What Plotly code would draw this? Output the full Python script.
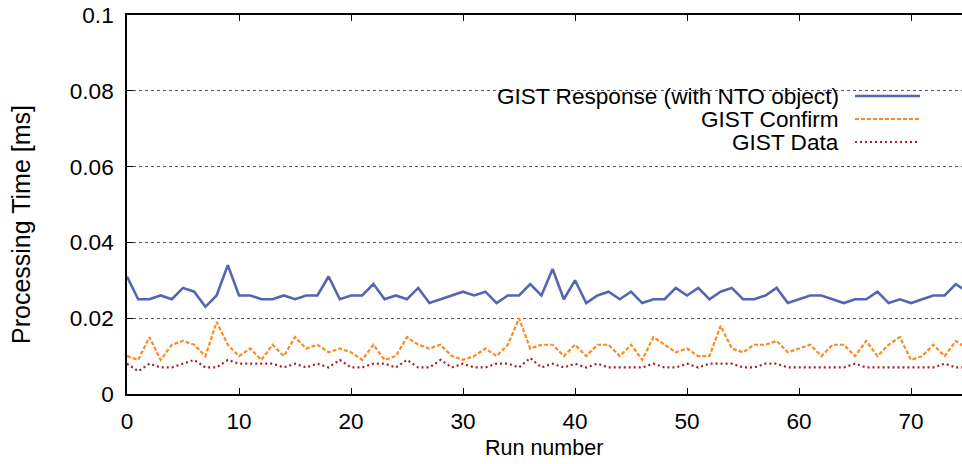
import plotly.graph_objects as go

run = list(range(76))

gist_response = [
    0.031, 0.025, 0.025, 0.026, 0.025, 0.028, 0.027, 0.023, 0.026, 0.034,
    0.026, 0.026, 0.025, 0.025, 0.026, 0.025, 0.026, 0.026, 0.031, 0.025,
    0.026, 0.026, 0.029, 0.025, 0.026, 0.025, 0.028, 0.024, 0.025, 0.026,
    0.027, 0.026, 0.027, 0.024, 0.026, 0.026, 0.029, 0.026, 0.033, 0.025,
    0.030, 0.024, 0.026, 0.027, 0.025, 0.027, 0.024, 0.025, 0.025, 0.028,
    0.026, 0.028, 0.025, 0.027, 0.028, 0.025, 0.025, 0.026, 0.028, 0.024,
    0.025, 0.026, 0.026, 0.025, 0.024, 0.025, 0.025, 0.027, 0.024, 0.025,
    0.024, 0.025, 0.026, 0.026, 0.029, 0.027,
]

gist_confirm = [
    0.010, 0.009, 0.015, 0.009, 0.013, 0.014, 0.013, 0.010, 0.019, 0.013,
    0.010, 0.012, 0.009, 0.013, 0.010, 0.015, 0.012, 0.013, 0.011, 0.012,
    0.011, 0.009, 0.013, 0.009, 0.010, 0.015, 0.013, 0.012, 0.013, 0.010,
    0.009, 0.010, 0.012, 0.010, 0.013, 0.020, 0.012, 0.013, 0.013, 0.010,
    0.013, 0.010, 0.013, 0.013, 0.010, 0.013, 0.009, 0.015, 0.013, 0.011,
    0.012, 0.010, 0.010, 0.018, 0.012, 0.011, 0.013, 0.013, 0.014, 0.011,
    0.012, 0.013, 0.010, 0.013, 0.013, 0.010, 0.014, 0.010, 0.013, 0.015,
    0.009, 0.010, 0.013, 0.010, 0.014, 0.012,
]

gist_data = [
    0.008, 0.006, 0.008, 0.007, 0.007, 0.008, 0.009, 0.007, 0.007, 0.009,
    0.008, 0.008, 0.008, 0.008, 0.007, 0.008, 0.007, 0.008, 0.007, 0.009,
    0.007, 0.007, 0.008, 0.008, 0.007, 0.009, 0.007, 0.007, 0.009, 0.007,
    0.008, 0.007, 0.007, 0.008, 0.008, 0.007, 0.0095, 0.007, 0.008, 0.007,
    0.008, 0.007, 0.008, 0.007, 0.007, 0.007, 0.007, 0.008, 0.007, 0.007,
    0.008, 0.007, 0.008, 0.008, 0.008, 0.007, 0.007, 0.008, 0.008, 0.007,
    0.007, 0.007, 0.007, 0.007, 0.007, 0.008, 0.007, 0.007, 0.007, 0.007,
    0.007, 0.007, 0.007, 0.008, 0.007, 0.007,
]

series_names = ["GIST Response (with NTO object)", "GIST Confirm", "GIST Data"]
series_colors = ["#5465b3", "#ff8a1f", "#a3202e"]
series_dash = ["solid", "4px,2px", "2px,3px"]
series_width = [2.6, 2.2, 2.2]

x_ticks = [0, 10, 20, 30, 40, 50, 60, 70]
y_ticks = [0, 0.02, 0.04, 0.06, 0.08, 0.1]
y_tick_labels = ["0", "0.02", "0.04", "0.06", "0.08", "0.1"]

FONT = "Liberation Sans, Arial, Helvetica, sans-serif"
FS = 22.6

fig = go.Figure()
for vals, name, col, dash, lw in zip([gist_response, gist_confirm, gist_data],
                                     series_names, series_colors, series_dash, series_width):
    fig.add_trace(go.Scatter(x=run, y=vals, mode="lines", name=name,
                             line=dict(color=col, width=lw, dash=dash),
                             showlegend=False))

W, H = 962, 464
L, R, T, B = 127, 0, 15, 70
pw = W - L - R
ph = H - T - B

def px_x(p):
    return (p - L) / pw

def px_y(p):
    return (H - B - p) / ph

shapes = [
    dict(type="rect", xref="paper", yref="paper",
         x0=px_x(418), x1=px_x(933), y0=px_y(155), y1=px_y(80),
         fillcolor="white", line=dict(width=0), layer="between"),
]
annotations = []
rows = [96, 119, 142]
for name, col, dash, lw, ry in zip(series_names, series_colors, series_dash, series_width, rows):
    shapes.append(dict(type="line", xref="paper", yref="paper",
                       x0=px_x(855), x1=px_x(920), y0=px_y(ry), y1=px_y(ry),
                       line=dict(color=col, width=lw, dash=dash), layer="above"))
    annotations.append(dict(text=name, xref="paper", yref="paper",
                            x=px_x(841), y=px_y(ry), xanchor="right", yanchor="middle",
                            showarrow=False, font=dict(size=FS, color="black", family=FONT)))

annotations.append(dict(text="Processing Time [ms]", xref="paper", yref="paper",
                        x=px_x(21), y=px_y(225), textangle=-90,
                        xanchor="center", yanchor="middle", showarrow=False,
                        font=dict(size=25, color="black", family=FONT)))
annotations.append(dict(text="Run number", xref="paper", yref="paper",
                        x=px_x(544), y=px_y(448),
                        xanchor="center", yanchor="middle", showarrow=False,
                        font=dict(size=21.5, color="black", family=FONT)))

fig.update_layout(
    width=W, height=H,
    margin=dict(l=L, r=R, t=T, b=B, pad=0),
    paper_bgcolor="white", plot_bgcolor="white",
    font=dict(family=FONT, size=FS, color="black"),
    shapes=shapes, annotations=annotations,
    xaxis=dict(range=[0, 74.55], tickvals=x_ticks, ticks="inside", ticklen=6,
               tickcolor="black", tickwidth=1, showline=True, linecolor="black",
               linewidth=1.5, mirror="ticks", showgrid=False, zeroline=False,
               ticklabelstandoff=6, tickfont=dict(size=FS)),
    yaxis=dict(range=[0, 0.1], tickvals=y_ticks, ticktext=y_tick_labels,
               ticks="inside", ticklen=6, tickcolor="black", tickwidth=1,
               showline=True, linecolor="black", linewidth=1.5,
               showgrid=True, gridcolor="#555555", griddash="dot", gridwidth=1,
               zeroline=False, ticklabelstandoff=7, tickfont=dict(size=FS)),
)

fig.write_html("out.html", config={"displayModeBar": False},
               post_script="document.body.style.margin='0';document.body.style.padding='0';")
